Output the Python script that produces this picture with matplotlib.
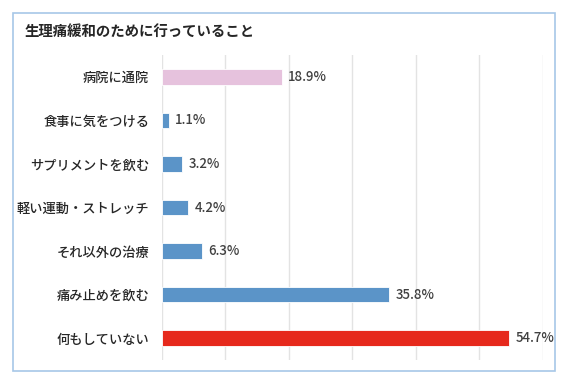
import matplotlib.pyplot as plt
from matplotlib.patches import Rectangle

plt.rcParams['font.family'] = ['Noto Sans CJK JP', 'DejaVu Sans']

# データ
categories = ['病院に通院', '食事に気をつける', 'サプリメントを飲む', '軽い運動・ストレッチ',
              'それ以外の治療', '痛み止めを飲む', '何もしていない']
values = [18.9, 1.1, 3.2, 4.2, 6.3, 35.8, 54.7]
bar_colors = ['#E6C2DD', '#5B94C8', '#5B94C8', '#5B94C8', '#5B94C8', '#5B94C8', '#E6291C']
title = '生理痛緩和のために行っていること'

fig = plt.figure(figsize=(5.7, 3.85), dpi=100)
ax = fig.add_axes([0.2837, 0.065, 0.669, 0.792])

y = range(len(categories))
ax.barh(y, values, height=0.36, color=bar_colors, edgecolor='white', linewidth=0.6, zorder=3)
for yi, v in zip(y, values):
    ax.text(v + 1.0, yi, f'{v}%', va='center', ha='left', fontsize=9.5,
            fontweight='medium', color='#404040')

ax.set_xlim(0, 60)
ax.set_ylim(len(categories) - 0.5, -0.5)
ax.set_xticks(range(0, 61, 10))
ax.set_xticklabels([])
ax.tick_params(axis='x', length=0)
ax.tick_params(axis='y', length=0, pad=9)
ax.set_yticks(list(y))
ax.set_yticklabels(categories, fontsize=9.5, fontweight='medium', color='#262626')
ax.grid(axis='x', color='#E3E3E3', linewidth=1, zorder=0)
for s in ax.spines.values():
    s.set_visible(False)

fig.text(25 / 570, 1 - 32 / 385, title, fontsize=10.4, fontweight='bold', color='#262626',
         va='center', ha='left')

# 外枠
fig.patches.append(Rectangle((13 / 570, 1 - 371 / 385), 542 / 570, 358 / 385,
                             transform=fig.transFigure, fill=False,
                             edgecolor='#A7C7E7', linewidth=1.2))

fig.savefig('out.png', dpi=100)
